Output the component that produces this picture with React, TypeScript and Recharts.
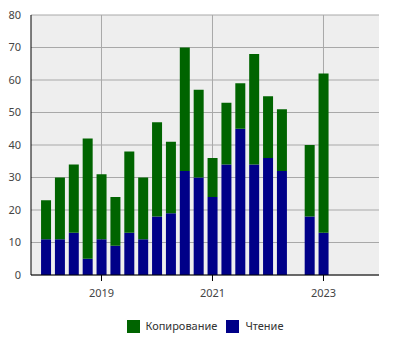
import React from 'react';
import { BarChart, Bar, XAxis, YAxis, CartesianGrid, Legend } from 'recharts';

const periods = [2018.0, 2018.25, 2018.5, 2018.75, 2019.0, 2019.25, 2019.5, 2019.75, 2020.0, 2020.25, 2020.5, 2020.75, 2021.0, 2021.25, 2021.5, 2021.75, 2022.0, 2022.25, 2022.5, 2022.75, 2023.0];
const reading = [11, 11, 13, 5, 11, 9, 13, 11, 18, 19, 32, 30, 24, 34, 45, 34, 36, 32, null, 18, 13];
const copying = [12, 19, 21, 37, 20, 15, 25, 19, 29, 22, 38, 27, 12, 19, 14, 34, 19, 19, null, 22, 49];
const xTicks = [2019, 2021, 2023];
const yTicks = [0, 10, 20, 30, 40, 50, 60, 70, 80];

const SERIES_COPY = 'Копирование';
const SERIES_READ = 'Чтение';
const GREEN = '#006400';
const BLUE = '#000088';

const data = periods.map((p, i) => ({ t: p, read: reading[i], copy: copying[i] }));

const FONT = '"Noto Sans", sans-serif';

const LegendContent = () => (
  <div style={{ height: 16, display: 'flex', alignItems: 'center', justifyContent: 'center', fontFamily: FONT, fontSize: 11, lineHeight: '16px', color: '#333' }}>
    {[{ n: SERIES_COPY, c: GREEN }, { n: SERIES_READ, c: BLUE }].map((it, i) => (
      <div key={it.n} style={{ display: 'flex', alignItems: 'center', marginRight: i === 0 ? 9 : 0 }}>
        <span style={{ display: 'inline-block', width: 13, height: 13, background: it.c, marginRight: 6 }} />
        <span>{it.n}</span>
      </div>
    ))}
  </div>
);

export default function App() {
  return (
    <div style={{ position: 'absolute', left: 0, top: 0, background: '#fff' }}>
      <BarChart width={400} height={350} data={data} margin={{ top: 15, right: 21, bottom: 29, left: 0 }}>
        <CartesianGrid fill="#eeeeee" stroke="#a8a8a8" strokeWidth={1} horizontalValues={yTicks} verticalValues={xTicks} />
        <XAxis
          xAxisId={0}
          dataKey="t"
          type="number"
          domain={[2017.73, 2024]}
          ticks={xTicks}
          allowDataOverflow
          height={30}
          tickSize={6}
          tickMargin={8}
          stroke="#000"
          tick={{ fill: '#444', fontSize: 11, fontFamily: FONT }}
        />
        <XAxis xAxisId={1} orientation="top" dataKey="t" type="number" domain={[2017.73, 2024]} height={0} tick={false} tickLine={false} stroke="#000" />
        <YAxis
          yAxisId={0}
          domain={[0, 80]}
          ticks={yTicks}
          width={31}
          tickLine={false}
          tickSize={0}
          tickMargin={10}
          stroke="#000"
          tick={{ fill: '#444', fontSize: 11, fontFamily: FONT }}
        />
        <YAxis yAxisId={1} orientation="right" domain={[0, 80]} width={0} tick={false} tickLine={false} stroke="#000" />
        <Legend verticalAlign="bottom" height={16} wrapperStyle={{ left: 31, width: 348, top: 318, bottom: 'auto', height: 16 }} content={<LegendContent />} />
        <Bar xAxisId={0} yAxisId={0} dataKey="read" name={SERIES_READ} stackId="a" fill={BLUE} barSize={10} isAnimationActive={false} />
        <Bar xAxisId={0} yAxisId={0} dataKey="copy" name={SERIES_COPY} stackId="a" fill={GREEN} barSize={10} isAnimationActive={false} />
      </BarChart>
    </div>
  );
}
